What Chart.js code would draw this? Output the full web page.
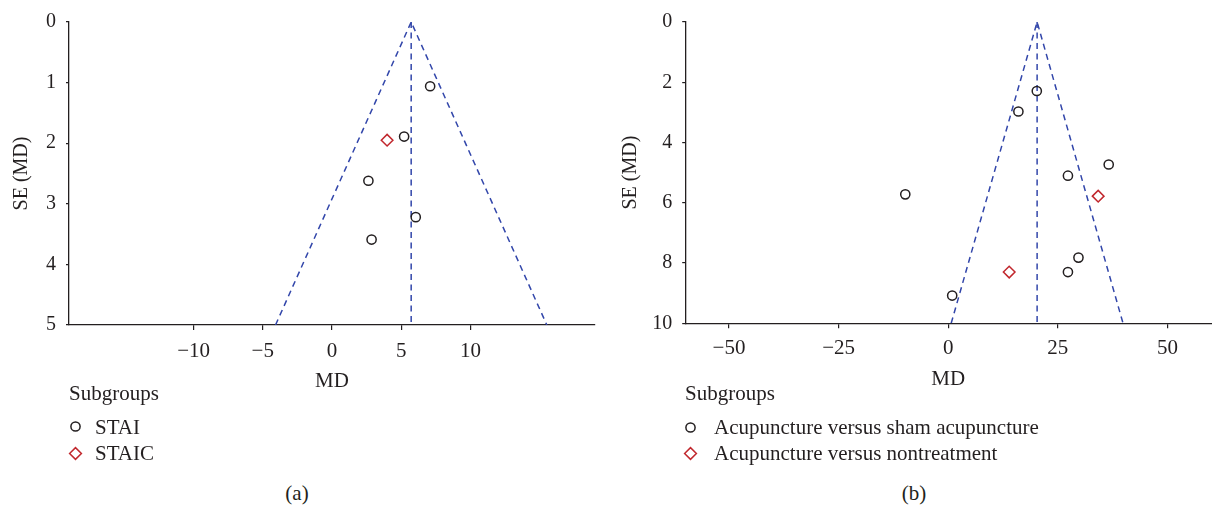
<!DOCTYPE html>
<html>
<head>
<meta charset="utf-8">
<script src="https://cdn.jsdelivr.net/npm/chart.js@4.4.1/dist/chart.umd.min.js"></script>
<style>
  html, body { margin: 0; padding: 0; background: #ffffff; }
  #wrap { position: relative; width: 1212px; height: 505px; overflow: hidden; background: #fff;
          font-family: 'Liberation Serif', 'Times New Roman', serif; color: #231f20; }
  canvas { position: absolute; top: 0; }
  .txt { position: absolute; font-size: 21px; line-height: 24px; white-space: nowrap; }
  .mk { position: absolute; }
</style>
</head>
<body>
<div id="wrap">
  <canvas id="ca" width="606" height="400" style="left:0px"></canvas>
  <canvas id="cb" width="606" height="400" style="left:606px"></canvas>

  <div class="txt" style="left:69px; top:381px;">Subgroups</div>
  <svg class="mk" style="left:68px; top:419px;" width="15" height="15"><circle cx="7.5" cy="7.5" r="4.6" fill="none" stroke="#231f20" stroke-width="1.5"/></svg>
  <div class="txt" style="left:95px; top:415px;">STAI</div>
  <svg class="mk" style="left:68px; top:446px;" width="15" height="15"><polygon points="1.6,7.5 7.5,1.6 13.4,7.5 7.5,13.4" fill="none" stroke="#c1272d" stroke-width="1.5"/></svg>
  <div class="txt" style="left:95px; top:441px;">STAIC</div>
  <div class="txt" style="left:297px; top:481px; transform:translateX(-50%);">(a)</div>

  <div class="txt" style="left:685px; top:381px;">Subgroups</div>
  <svg class="mk" style="left:683px; top:420px;" width="15" height="15"><circle cx="7.5" cy="7.5" r="4.6" fill="none" stroke="#231f20" stroke-width="1.5"/></svg>
  <div class="txt" style="left:714px; top:415px;">Acupuncture versus sham acupuncture</div>
  <svg class="mk" style="left:683px; top:446px;" width="15" height="15"><polygon points="1.6,7.5 7.5,1.6 13.4,7.5 7.5,13.4" fill="none" stroke="#c1272d" stroke-width="1.5"/></svg>
  <div class="txt" style="left:714px; top:441px;">Acupuncture versus nontreatment</div>
  <div class="txt" style="left:914px; top:481px; transform:translateX(-50%);">(b)</div>
</div>

<script>
// ---------- Panel (a): STAI ----------
const staiMD_A  = [7.09, 5.21, 2.63, 6.05, 2.86];
const staiSE_A  = [1.06, 1.89, 2.62, 3.22, 3.59];
const staicMD_A = [3.98];
const staicSE_A = [1.95];
const pooledA   = 5.72;
const funnelMD_A = [-4.08, 5.72, 15.52];
const funnelSE_A = [5, 0, 5];
const xTicksA      = [-10, -5, 0, 5, 10];
const xTickLabelsA = ['\u221210', '\u22125', '0', '5', '10'];
const yTicksA      = [0, 1, 2, 3, 4, 5];

// ---------- Panel (b) ----------
const shamMD_B = [20.2, 16.0, 36.6, 27.3, -9.8, 29.7, 27.3, 0.9];
const shamSE_B = [2.29, 2.97, 4.73, 5.10, 5.72, 7.82, 8.30, 9.08];
const nonMD_B  = [34.2, 13.9];
const nonSE_B  = [5.78, 8.30];
const pooledB  = 20.27;
const funnelMD_B = [0.67, 20.27, 39.87];
const funnelSE_B = [10, 0, 10];
const xTicksB      = [-50, -25, 0, 25, 50];
const xTickLabelsB = ['\u221250', '\u221225', '0', '25', '50'];
const yTicksB      = [0, 2, 4, 6, 8, 10];

const INK = '#231f20';
const BLUE = '#3246aa';
const RED = '#c1272d';
const FONT = "'Liberation Serif', 'Times New Roman', serif";

const zip = (xs, ys) => xs.map((x, i) => ({x: x, y: ys[i]}));

function makeChart(id, cfg) {
  const ctx = document.getElementById(id);
  return new Chart(ctx, {
    type: 'scatter',
    data: {
      datasets: [
        { label: cfg.names[0], data: zip(cfg.md1, cfg.se1), pointStyle: 'circle', pointRadius: 4.6,
          pointBorderWidth: 1.5, borderColor: INK, backgroundColor: 'rgba(0,0,0,0)', order: 0 },
        { label: cfg.names[1], data: zip(cfg.md2, cfg.se2), pointStyle: 'rectRot', pointRadius: 5.8,
          pointBorderWidth: 1.5, borderColor: RED, backgroundColor: 'rgba(0,0,0,0)', order: 0 },
        { label: 'funnel', data: zip(cfg.fMD, cfg.fSE), showLine: true, pointRadius: 0,
          borderColor: BLUE, borderWidth: 1.5, borderDash: [6, 4.5], fill: false, order: 1 },
        { label: 'pooled', data: [{x: cfg.pooled, y: cfg.yMin}, {x: cfg.pooled, y: cfg.yMax}], showLine: true,
          pointRadius: 0, borderColor: BLUE, borderWidth: 1.5, borderDash: [6, 4.5], fill: false, order: 1 }
      ]
    },
    options: {
      responsive: false,
      animation: false,
      events: [],
      layout: { autoPadding: false, padding: { top: cfg.padTop, left: 0, right: cfg.padRight, bottom: 0 } },
      plugins: { legend: { display: false }, tooltip: { enabled: false } },
      scales: {
        x: {
          type: 'linear', position: 'bottom',
          min: cfg.xMin, max: cfg.xMax,
          afterBuildTicks: s => { s.ticks = cfg.xTicks.map(v => ({ value: v })); },
          afterFit: s => { s.height = cfg.xH; },
          ticks: { callback: (v, i) => cfg.xLabels[i], color: INK, padding: cfg.xPad,
                   font: { family: FONT, size: 21 }, maxRotation: 0, autoSkip: false },
          grid: { drawOnChartArea: false, drawTicks: true, tickLength: 5, color: INK, lineWidth: 1.2 },
          border: { display: true, color: INK, width: 1.3 },
          title: { display: true, text: 'MD', color: INK, font: { family: FONT, size: 21 },
                   padding: { top: 0, bottom: cfg.xTitlePad } }
        },
        y: {
          type: 'linear', position: 'left', reverse: true,
          min: cfg.yMin, max: cfg.yMax,
          afterBuildTicks: s => { s.ticks = cfg.yTicks.map(v => ({ value: v })); },
          afterFit: s => { s.width = cfg.yW; },
          ticks: { color: INK, padding: 10, font: { family: FONT, size: 20 } },
          grid: { drawOnChartArea: false, drawTicks: true, tickLength: 3, color: INK, lineWidth: 1.2 },
          border: { display: true, color: INK, width: 1.3 },
          title: { display: true, text: 'SE (MD)', color: INK, font: { family: FONT, size: 20 },
                   padding: { top: cfg.yTitlePad, bottom: 0 } }
        }
      }
    }
  });
}

makeChart('ca', {
  names: ['STAI', 'STAIC'],
  md1: staiMD_A, se1: staiSE_A, md2: staicMD_A, se2: staicSE_A,
  fMD: funnelMD_A, fSE: funnelSE_A, pooled: pooledA,
  xMin: -19, xMax: 19, yMin: 0, yMax: 5,
  xTicks: xTicksA, xLabels: xTickLabelsA, yTicks: yTicksA,
  padTop: 18.3, padRight: 11, xH: 75, yW: 69, xPad: 9, xTitlePad: 6.3, yTitlePad: 9.7
});

makeChart('cb', {
  names: ['Acupuncture versus sham acupuncture', 'Acupuncture versus nontreatment'],
  md1: shamMD_B, se1: shamSE_B, md2: nonMD_B, se2: nonSE_B,
  fMD: funnelMD_B, fSE: funnelSE_B, pooled: pooledB,
  xMin: -60, xMax: 60, yMin: 0, yMax: 10,
  xTicks: xTicksB, xLabels: xTickLabelsB, yTicks: yTicksB,
  padTop: 15, padRight: 0.7, xH: 76.7, yW: 79.2, xPad: 7.5, xTitlePad: 8, yTitlePad: 12.3
});
</script>
</body>
</html>
